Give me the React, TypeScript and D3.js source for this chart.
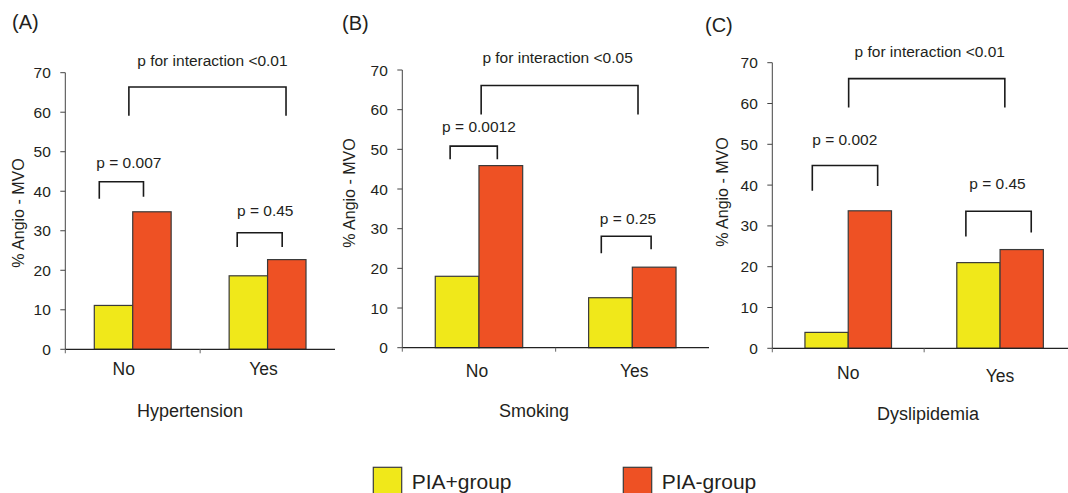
import * as d3 from 'd3';

// ---- data ----
const categories = ['No', 'Yes'];
const groups = ['PIA+group', 'PIA-group'];
const panelLabels = ['(A)', '(B)', '(C)'];
const factors = ['Hypertension', 'Smoking', 'Dyslipidemia'];
const piaPlus = [
  [11.1, 18.6],
  [18.0, 12.6],
  [3.9, 21.0],
];
const piaMinus = [
  [34.8, 22.7],
  [45.9, 20.3],
  [33.7, 24.2],
];
const pWithin = [
  ['p = 0.007', 'p = 0.45'],
  ['p = 0.0012', 'p = 0.25'],
  ['p = 0.002', 'p = 0.45'],
];
const pInteraction = ['p for interaction <0.01', 'p for interaction <0.05', 'p for interaction <0.01'];
const yTicks = [0, 10, 20, 30, 40, 50, 60, 70];

// ---- layout ----
const W = 1068;
const H = 493;
const FONT = '"Liberation Sans", Arial, sans-serif';
const TEXT = '#231f20';
const colors = ['#f0e81a', '#ee5124'];

const panels = [
  { x0: 65.3, x1: 335, yTop: 72.7, yBot: 349.3, labelX: 12, labelY: 29, yLabX: 18, yLabY: 213, catDx: [-9, -4], catY: [375, 375], titleX: 190, titleY: 417 },
  { x0: 402.3, x1: 709, yTop: 70, yBot: 347.7, labelX: 342, labelY: 30, yLabX: 349, yLabY: 193, catDx: [-2, 2], catY: [377, 377], titleX: 534, titleY: 417 },
  { x0: 772.3, x1: 1076, yTop: 62.7, yBot: 348.3, labelX: 705, labelY: 32, yLabX: 722, yLabY: 192, catDx: [0, 0], catY: [379, 382], titleX: 928, titleY: 420 },
];

// brackets: [tLeft, tRight, top, legLeft, legRight, textLevel, textT] (t in bar widths from group start, levels in data units)
const withinBrackets = [
  [[0.13, 1.28, 42.4, 38.1, 38.6, 45.9, 0.9], [0.21, 1.38, 29.5, 25.9, 25.9, 33.8, 0.94]],
  [[0.34, 1.42, 50.8, 47.5, 47.5, 54.4, 1.0], [0.29, 1.43, 28.1, 23.8, 24.8, 31.2, 0.9]],
  [[0.17, 1.68, 44.8, 38.6, 39.8, 49.8, 0.92], [0.21, 1.72, 33.6, 27.4, 28.4, 39.0, 0.94]],
];
// interaction: [tLeft (No group), tRight (Yes group), top, legL, legR, textLevel, textDx]
const interBrackets = [
  [0.9, 1.48, 66.4, 59.1, 59.1, 71.7, 5],
  [1.05, 1.13, 66.1, 58.8, 58.8, 71.7, -2],
  [1.01, 1.11, 66.1, 59.0, 59.0, 71.5, 3],
];

function Panel({ i }: { i: number }) {
  const L = panels[i];
  const y = d3.scaleLinear().domain([0, 70]).range([L.yBot, L.yTop]);
  const x0 = d3.scaleBand<string>().domain(categories).range([L.x0, L.x1]).paddingInner(0.43).paddingOuter(0.215);
  const x1 = d3.scaleBand<string>().domain(groups).range([0, x0.bandwidth()]);
  const bw = x1.bandwidth();
  const series = [piaPlus[i], piaMinus[i]];
  const bx = (cat: string, t: number) => (x0(cat) as number) + t * bw;

  const bracket = (xl: number, xr: number, top: number, ll: number, lr: number) =>
    `M${xl},${y(ll)}V${y(top)}H${xr}V${y(lr)}`;

  const ib = interBrackets[i];
  const ixl = bx('No', ib[0]);
  const ixr = bx('Yes', ib[1]);

  return (
    <g fontFamily={FONT} fill={TEXT}>
      <text x={L.labelX} y={L.labelY} fontSize={20}>{panelLabels[i]}</text>

      {/* y axis */}
      <line x1={L.x0} x2={L.x0} y1={y(70)} y2={y(0)} stroke="#444" strokeWidth={1} />
      {yTicks.map((t) => (
        <g key={t}>
          <line x1={L.x0 - 5} x2={L.x0} y1={y(t)} y2={y(t)} stroke="#444" strokeWidth={1} />
          <text x={L.x0 - 14.5} y={y(t)} dy="0.36em" textAnchor="end" fontSize={15.5}>{t}</text>
        </g>
      ))}
      <text
        transform={`translate(${L.yLabX},${L.yLabY}) rotate(-90)`}
        textAnchor="middle"
        dy="0.36em"
        fontSize={16}
      >
        % Angio - MVO
      </text>

      {/* bars */}
      {categories.map((c, ci) =>
        groups.map((g, gi) => (
          <rect
            key={c + g}
            x={(x0(c) as number) + (x1(g) as number)}
            y={y(series[gi][ci])}
            width={bw}
            height={y(0) - y(series[gi][ci])}
            fill={colors[gi]}
            stroke="#3a3a3a"
            strokeWidth={1.2}
          />
        ))
      )}

      {/* x axis */}
      <line x1={L.x0} x2={L.x1} y1={y(0)} y2={y(0)} stroke="#222" strokeWidth={1.3} />
      {[L.x0, (L.x0 + L.x1) / 2].map((tx) => (
        <line key={tx} x1={tx} x2={tx} y1={y(0)} y2={y(0) + 4} stroke="#666" strokeWidth={1} />
      ))}
      {categories.map((c, ci) => (
        <text
          key={c}
          x={(x0(c) as number) + x0.bandwidth() / 2 + L.catDx[ci]}
          y={L.catY[ci]}
          textAnchor="middle"
          fontSize={17.5}
        >
          {c}
        </text>
      ))}
      <text x={L.titleX} y={L.titleY} textAnchor="middle" fontSize={18}>{factors[i]}</text>

      {/* within-category brackets */}
      {categories.map((c, ci) => {
        const b = withinBrackets[i][ci];
        return (
          <g key={'b' + c}>
            <path d={bracket(bx(c, b[0]), bx(c, b[1]), b[2], b[3], b[4])} fill="none" stroke="#1a1a1a" strokeWidth={1.6} />
            <text x={bx(c, b[6])} y={y(b[5])} textAnchor="middle" fontSize={15.5}>{pWithin[i][ci]}</text>
          </g>
        );
      })}

      {/* interaction bracket */}
      <path d={bracket(ixl, ixr, ib[2], ib[3], ib[4])} fill="none" stroke="#1a1a1a" strokeWidth={1.6} />
      <text x={(ixl + ixr) / 2 + ib[6]} y={y(ib[5])} textAnchor="middle" fontSize={15.5}>{pInteraction[i]}</text>
    </g>
  );
}

export default function App() {
  const legendX = [373.3, 623.3];
  return (
    <svg width={W} height={H} style={{ position: 'absolute', left: 0, top: 0, background: '#fff' }}>
      <rect width={W} height={H} fill="#fff" />
      {panels.map((_, i) => (
        <Panel key={i} i={i} />
      ))}
      <g fontFamily={FONT} fill={TEXT}>
        {groups.map((g, gi) => (
          <g key={g}>
            <rect x={legendX[gi]} y={467.3} width={28.4} height={28} fill={colors[gi]} stroke="#3a3a3a" strokeWidth={1.2} />
            <text x={legendX[gi] + 38.4} y={489} fontSize={21}>{g}</text>
          </g>
        ))}
      </g>
    </svg>
  );
}
